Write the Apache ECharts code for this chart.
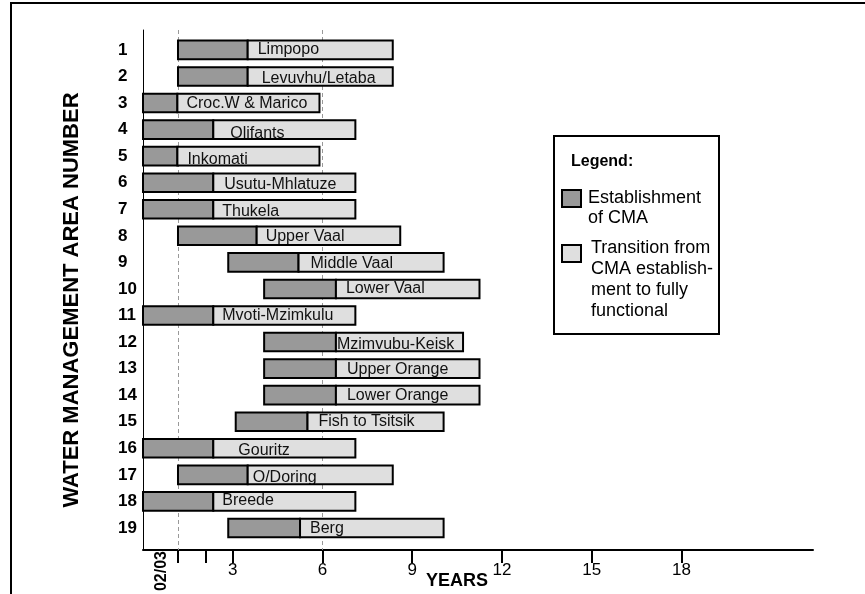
<!DOCTYPE html>
<html>
<head>
<meta charset="utf-8">
<script src="https://cdn.jsdelivr.net/npm/echarts@6/dist/echarts.min.js"></script>
<style>
  html, body { margin: 0; padding: 0; background: #fff; }
  #main { width: 865px; height: 594px; }
</style>
</head>
<body>
<div id="main"></div>
<script>
// water management areas, top to bottom
var areaNumbers = [1, 2, 3, 4, 5, 6, 7, 8, 9, 10, 11, 12, 13, 14, 15, 16, 17, 18, 19];
var areaNames = ['Limpopo', 'Levuvhu/Letaba', 'Croc.W & Marico', 'Olifants', 'Inkomati',
  'Usutu-Mhlatuze', 'Thukela', 'Upper Vaal', 'Middle Vaal', 'Lower Vaal', 'Mvoti-Mzimkulu',
  'Mzimvubu-Keisk', 'Upper Orange', 'Lower Orange', 'Fish to Tsitsik', 'Gouritz',
  'O/Doring', 'Breede', 'Berg'];
// years from 02/03
var establishStart = [1.17, 1.17, 0, 0, 0, 0, 0, 1.17, 2.85, 4.05, 0, 4.05, 4.05, 4.05, 3.1, 0, 1.17, 0, 2.85];
var establishEnd = [3.5, 3.5, 1.15, 2.35, 1.15, 2.35, 2.35, 3.8, 5.2, 6.45, 2.35, 6.45, 6.45, 6.45, 5.5, 2.35, 3.5, 2.35, 5.25];
var functionalEnd = [8.35, 8.35, 5.9, 7.1, 5.9, 7.1, 7.1, 8.6, 10.05, 11.25, 7.1, 10.7, 11.25, 11.25, 10.05, 7.1, 8.35, 7.1, 10.05];

var tickYears = [1.17, 2.1, 3, 6, 9, 12, 15, 18];
var labelYears = [3, 6, 9, 12, 15, 18];
var gridYears = [1.17, 6];

// label nudges in px (dx after divider, dy from bar centre)
var nameDx = [10, 14, 9, 17, 10, 11, 9, 9, 12, 10, 9, 1, 11, 11, 11, 25, 5, 9, 10];
var nameDy = [0, 2, 1, 4, 3, 2, 2, 1, 1, 0, 0, 3, 1, 0, 0, 2, 3, -1, 1];

var FONT = '"Liberation Sans", Arial, sans-serif';
var DARK = '#999999';
var LIGHT = '#dfdfdf';

var rows = areaNumbers.map(function (n, i) {
  return [n, establishStart[i], establishEnd[i], functionalEnd[i], i];
});

var chart = echarts.init(document.getElementById('main'));

function renderItem(params, api) {
  var i = api.value(4);
  var p0 = api.coord([api.value(1), api.value(0)]);
  var p1 = api.coord([api.value(2), api.value(0)]);
  var p2 = api.coord([api.value(3), api.value(0)]);
  var h = api.size([0, 1])[1] * 0.7;
  var top = p0[1] - h / 2;
  var lightShape = { x: p1[0], y: top, width: p2[0] - p1[0], height: h };
  return {
    type: 'group',
    children: [
      {
        type: 'rect',
        shape: { x: p0[0], y: top, width: p1[0] - p0[0], height: h },
        style: { fill: DARK, stroke: '#000', lineWidth: 2 }
      },
      {
        type: 'rect',
        shape: lightShape,
        style: { fill: LIGHT, stroke: null }
      },
      {
        type: 'text',
        clipPath: { type: 'rect', shape: { x: p1[0], y: top - 6, width: p2[0] - p1[0], height: h + 6 } },
        style: {
          text: areaNames[i],
          x: p1[0] + nameDx[i],
          y: p0[1] + nameDy[i],
          verticalAlign: 'middle',
          align: 'left',
          font: '16px ' + FONT,
          fill: '#111'
        }
      },
      {
        type: 'rect',
        shape: lightShape,
        style: { fill: null, stroke: '#000', lineWidth: 2 }
      }
    ]
  };
}

var option = {
  backgroundColor: '#fff',
  animation: false,
  grid: { left: 143, right: 52, top: 30, bottom: 44, outerBoundsMode: 'none', containLabel: false },
  xAxis: {
    type: 'value',
    min: 0,
    max: 22.4,
    name: 'YEARS',
    nameLocation: 'middle',
    nameGap: 22,
    nameMoveOverlap: false,
    nameTextStyle: { fontFamily: FONT, fontSize: 18, fontWeight: 'bold', color: '#000', padding: [0, 42, 0, 0] },
    axisLine: { show: true, lineStyle: { color: '#000', width: 2 } },
    axisTick: { show: true, length: 13, lineStyle: { color: '#000', width: 2 }, customValues: tickYears },
    axisLabel: {
      customValues: labelYears,
      margin: 12,
      fontFamily: FONT,
      fontSize: 17,
      color: '#000'
    },
    splitLine: { show: false }
  },
  yAxis: {
    type: 'value',
    inverse: true,
    min: 0.25,
    max: 19.83,
    name: 'WATER MANAGEMENT AREA NUMBER',
    nameLocation: 'middle',
    nameGap: 60,
    nameMoveOverlap: false,
    nameTextStyle: { fontFamily: FONT, fontSize: 22, fontWeight: 'bold', color: '#000', padding: [0, 20, 0, 0] },
    axisLine: { show: true, lineStyle: { color: '#000', width: 1 } },
    axisTick: { show: false },
    splitLine: { show: false },
    axisLabel: {
      customValues: areaNumbers,
      align: 'left',
      margin: 25,
      fontFamily: FONT,
      fontSize: 17,
      fontWeight: 'bold',
      color: '#000'
    }
  },
  series: [
    {
      type: 'custom',
      renderItem: renderItem,
      clip: false,
      encode: { x: [1, 2, 3], y: 0 },
      data: rows,
      z: 3,
      markLine: {
        silent: true,
        symbol: 'none',
        label: { show: false },
        lineStyle: { color: '#999', type: [4, 3], width: 1 },
        data: gridYears.map(function (v) { return { xAxis: v }; }),
        z: 1
      }
    }
  ],
  graphic: [
    {
      type: 'polyline',
      shape: { points: [[11, 600], [11, 3], [870, 3]] },
      style: { fill: null, stroke: '#000', lineWidth: 2 },
      silent: true
    },
    {
      type: 'text',
      x: 162,
      y: 551,
      rotation: Math.PI / 2,
      style: { text: '02/03', align: 'right', verticalAlign: 'middle', font: 'bold 16px ' + FONT, fill: '#000' },
      silent: true
    },
    {
      type: 'group',
      left: 553,
      top: 135,
      children: [
        { type: 'rect', shape: { x: 0, y: 0, width: 165, height: 198 }, style: { fill: '#fff', stroke: '#000', lineWidth: 2 } },
        { type: 'text', style: { text: 'Legend:', x: 17, y: 26, verticalAlign: 'middle', font: 'bold 16px ' + FONT, fill: '#000' } },
        { type: 'rect', shape: { x: 8, y: 54, width: 19, height: 17 }, style: { fill: DARK, stroke: '#000', lineWidth: 2 } },
        { type: 'text', style: { text: 'Establishment\nof CMA', x: 34, y: 52, lineHeight: 20, font: '18px ' + FONT, fill: '#000' } },
        { type: 'rect', shape: { x: 8, y: 109, width: 19, height: 17 }, style: { fill: LIGHT, stroke: '#000', lineWidth: 2 } },
        { type: 'text', style: { text: 'Transition from\nCMA establish-\nment to fully\nfunctional', x: 37, y: 102, lineHeight: 21, font: '18px ' + FONT, fill: '#000' } }
      ]
    }
  ]
};

chart.setOption(option);
</script>
</body>
</html>
